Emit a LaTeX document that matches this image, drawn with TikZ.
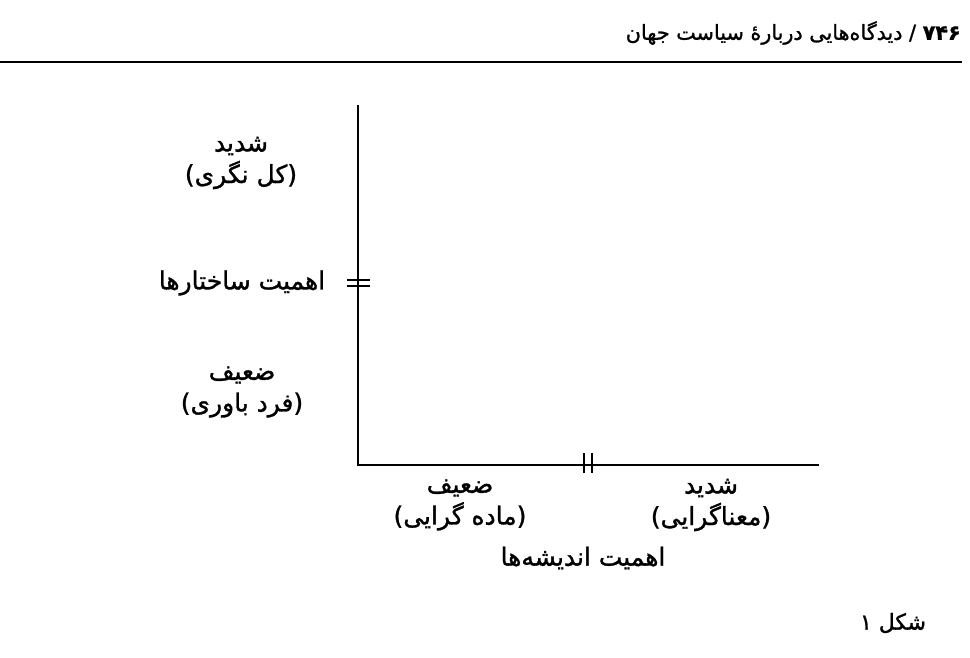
\documentclass[tikz,border=0pt]{standalone}
\usepackage{fontspec}
\setmainfont{DejaVu Sans}
\newfontfamily\farsi[Script=Arabic,RawFeature={embolden=1.2}]{DejaVu Sans}
\TeXXeTstate=1
\newcommand{\fa}[1]{\beginR #1\endR}

\begin{document}
\begin{tikzpicture}[
    x=0.02cm,
    y=-0.02cm,
    lbl/.style={
      font=\farsi\fontsize{14.2}{18}\selectfont,
      align=center,
      inner sep=0pt
    },
    head/.style={
      font=\farsi\fontsize{11.8}{14}\selectfont,
      inner sep=0pt
    },
    axis/.style={line width=1.2pt},
    tickmark/.style={line width=0.9pt}
  ]
    \useasboundingbox (0,0) rectangle (970,657);

    % header
    \node[head, anchor=east] (H) at (961,33) {\fa{\textbf{\beginL ۷۴۶\endL} / دیدگاه‌هایی دربارهٔ سیاست جهان}};
    \coordinate (RL) at (0,62);
    \coordinate (RR) at (962,62);
    \draw[line width=0.9pt] (RL) -- (RR);

    % axes
    \coordinate (Y) at (358,105);
    \coordinate (O) at (358,465);
    \coordinate (X) at (819,465);
    \draw[axis] (Y) |- (X);

    % ticks
    \coordinate (YT) at (358,283);
    \coordinate (XT) at (588,463);
    \draw[tickmark] ([shift={(-11,-3)}]YT) -- ++(23,0);
    \draw[tickmark] ([shift={(-11,3)}]YT) -- ++(23,0);
    \draw[tickmark] ([shift={(-4,-10)}]XT) -- ++(0,20);
    \draw[tickmark] ([shift={(4,-10)}]XT) -- ++(0,20);

    % vertical axis labels
    \node[lbl] (YH) at (241,163) {\fa{شدید}\\\fa{(کل نگری)}};
    \node[lbl] (YM) at (242,283) {\fa{اهمیت ساختارها}};
    \node[lbl] (YL) at (242,392) {\fa{ضعیف}\\\fa{(فرد باوری)}};

    % horizontal axis labels
    \node[lbl] (XL) at (460,505) {\fa{ضعیف}\\\fa{(ماده گرایی)}};
    \node[lbl] (XH) at (711,505) {\fa{شدید}\\\fa{(معناگرایی)}};
    \node[lbl] (XM) at (583,558) {\fa{اهمیت اندیشه‌ها}};

    % caption
    \node[lbl, font=\farsi\fontsize{12.5}{15}\selectfont] (F) at (893,623) {\fa{شکل ۱}};
\end{tikzpicture}
\end{document}
